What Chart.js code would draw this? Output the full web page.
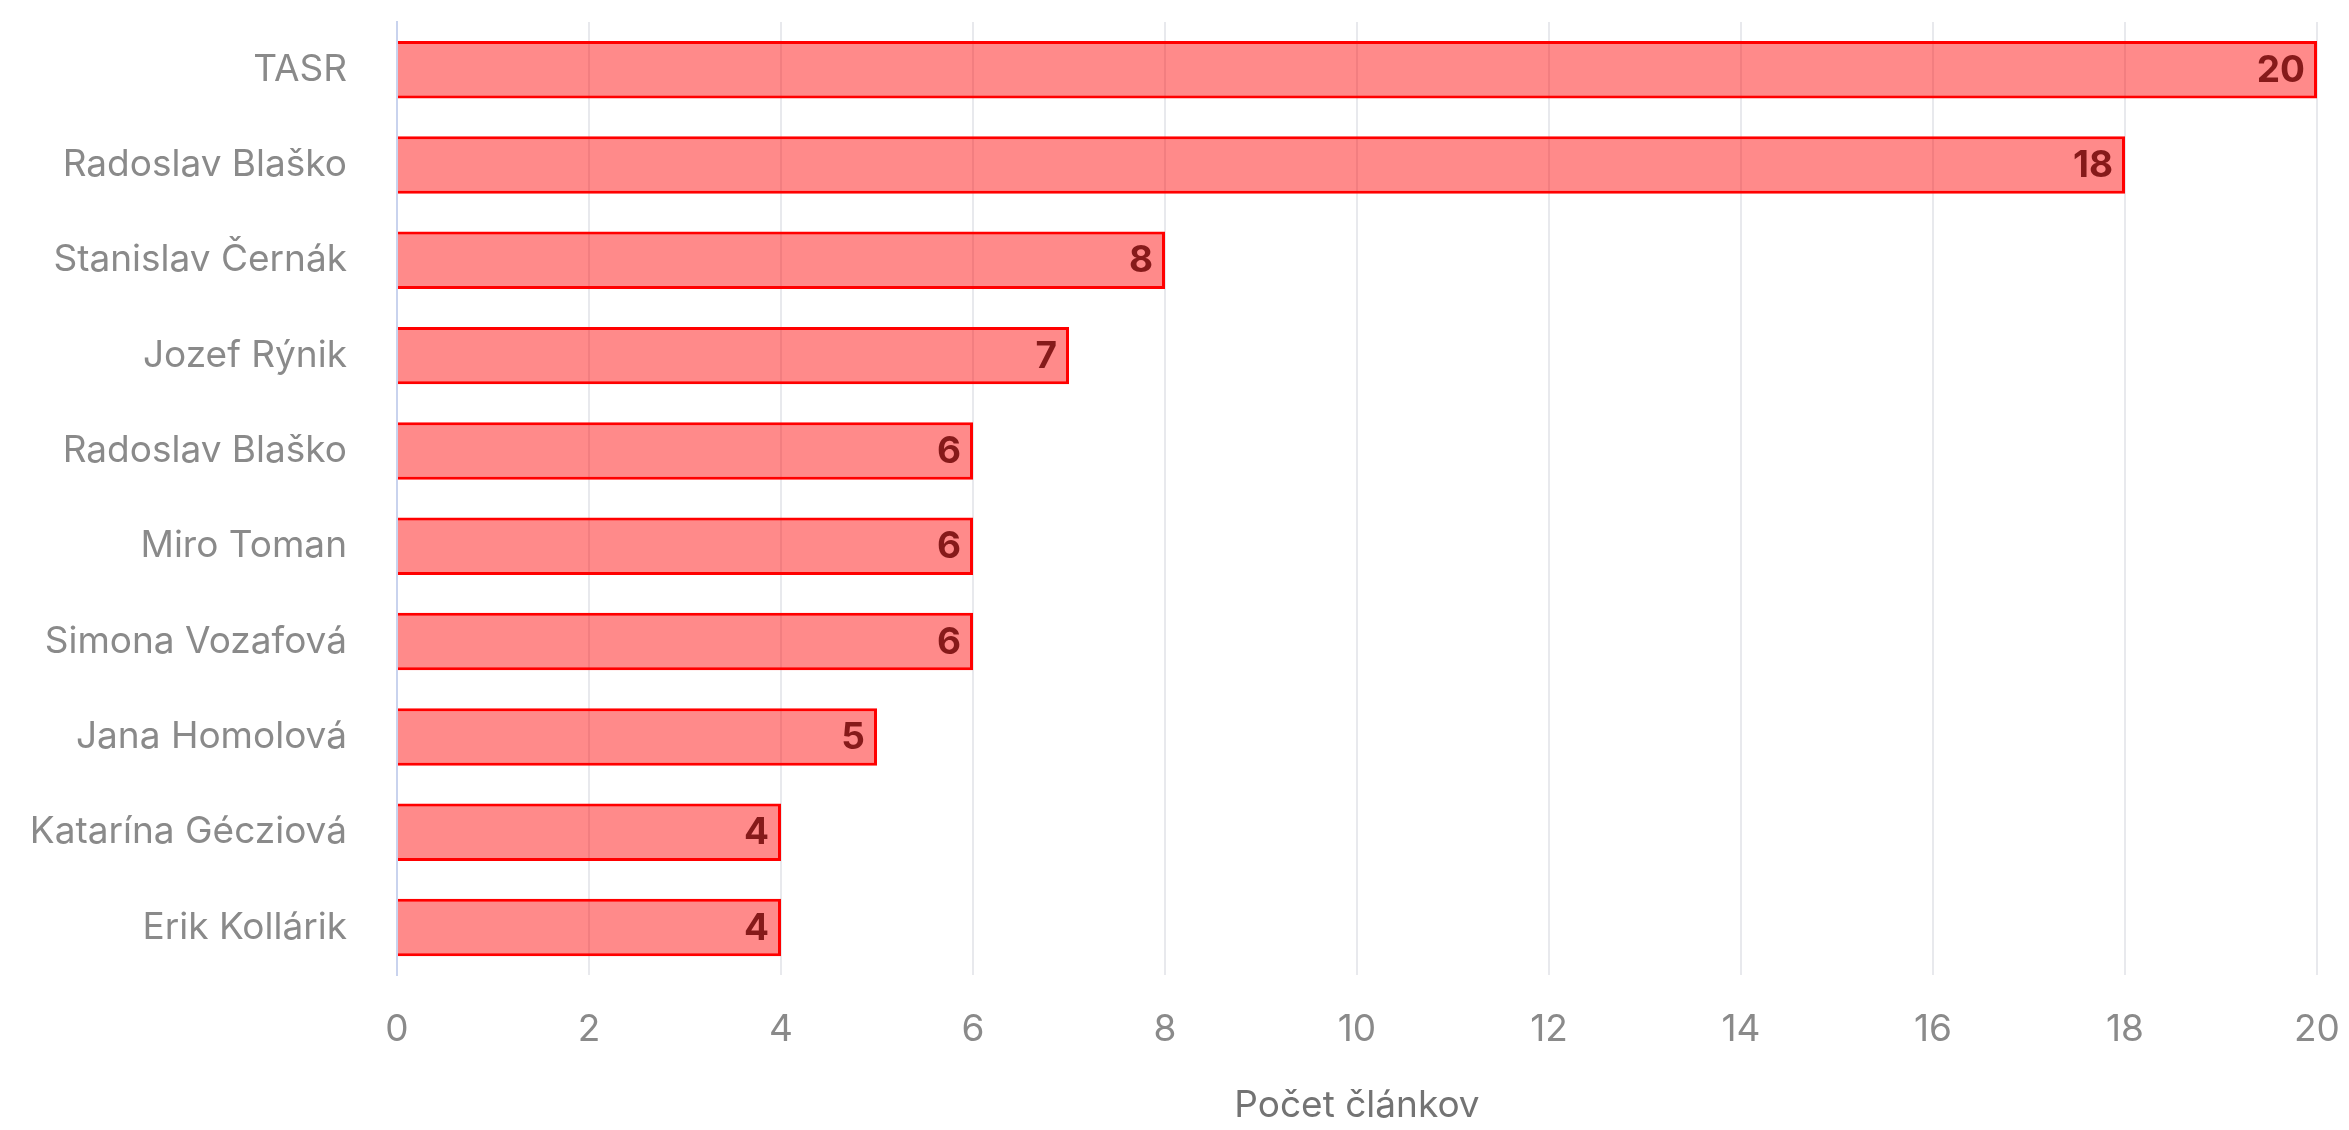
<!DOCTYPE html>
<html>
<head>
<meta charset="utf-8">
<script src="https://cdn.jsdelivr.net/npm/chart.js@4.4.1/dist/chart.umd.min.js"></script>
<style>
    html, body { margin: 0; padding: 0; background: #ffffff; }
    #wrap { width: 2349px; height: 1130px; }
</style>
</head>
<body>
<div id="wrap"><canvas id="myChart"></canvas></div>
<script>
"use strict";
var autori = [
    "TASR",
    "Radoslav Blaško",
    "Stanislav Černák",
    "Jozef Rýnik",
    "Radoslav Blaško",
    "Miro Toman",
    "Simona Vozafová",
    "Jana Homolová",
    "Katarína Gécziová",
    "Erik Kollárik",
];
var pocty = [20, 18, 8, 7, 6, 6, 6, 5, 4, 4];
var osX = [0, 2, 4, 6, 8, 10, 12, 14, 16, 18, 20];

// hodnoty na konci stlpcov
var popisky = {
    id: "popisky",
    afterDatasetsDraw: function (chart) {
        var ctx = chart.ctx;
        var meta = chart.getDatasetMeta(0);
        ctx.save();
        ctx.font = "bold 37px Inter";
        ctx.fillStyle = "#861a1a";
        ctx.textAlign = "right";
        ctx.textBaseline = "middle";
        meta.data.forEach(function (bar, i) {
            ctx.fillText(String(pocty[i]), bar.x - 12, bar.y + 1);
        });
        ctx.restore();
    },
};

Chart.defaults.font.family = "Inter";
Chart.defaults.font.size = 37;

var ctx = document.getElementById("myChart").getContext("2d");
var myChart = new Chart(ctx, {
    type: "bar",
    data: {
        labels: autori,
        datasets: [
            {
                data: pocty,
                backgroundColor: "rgba(255, 0, 0, 0.46)",
                borderColor: "#ff0000",
                borderWidth: 3,
                barPercentage: 0.67,
                categoryPercentage: 0.9,
            },
        ],
    },
    options: {
        indexAxis: "y",
        responsive: true,
        maintainAspectRatio: false,
        animation: false,
        layout: {
            padding: { top: 22, right: 32, left: 0, bottom: 0 },
        },
        plugins: {
            legend: { display: false },
            tooltip: { enabled: false },
        },
        scales: {
            x: {
                min: 0,
                max: 20,
                afterBuildTicks: function (scale) {
                    scale.ticks = osX.map(function (v) {
                        return { value: v };
                    });
                },
                afterFit: function (scale) {
                    scale.paddingLeft = 0;
                    scale.paddingRight = 0;
                },
                ticks: { color: "#8a8a8a", padding: 32 },
                grid: { color: "#e8e9ed", lineWidth: 2, drawTicks: false },
                border: { display: false },
                title: {
                    display: true,
                    text: "Počet článkov",
                    color: "#737373",
                    padding: { top: 0, bottom: 2 },
                },
            },
            y: {
                afterFit: function (scale) {
                    scale.width = 397;
                    scale.paddingTop = 0;
                    scale.paddingBottom = 0;
                },
                ticks: { color: "#8a8a8a", padding: 50 },
                grid: { display: false, drawTicks: false },
                border: { display: true, color: "#c9d3ee", width: 2 },
            },
        },
    },
    plugins: [popisky],
});
</script>
</body>
</html>
